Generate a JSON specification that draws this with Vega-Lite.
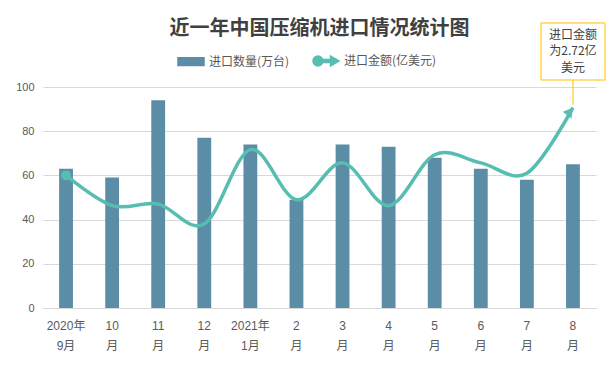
{
  "$schema": "https://vega.github.io/schema/vega-lite/v6.json",
  "autosize": "none",
  "width": 553,
  "height": 221,
  "padding": {"left": 43, "top": 87, "right": 20, "bottom": 60},
  "background": "white",
  "config": {
    "font": "Liberation Sans, Noto Sans CJK SC",
    "view": {"stroke": null},
    "axisY": {
      "labelOverlap": false,
      "domain": false,
      "ticks": false,
      "gridColor": "#d9d9d9",
      "labelColor": "#595959",
      "labelFontSize": 11,
      "labelPadding": 9,
      "title": null
    }
  },
  "title": {
    "text": "近一年中国压缩机进口情况统计图",
    "font": "Noto Sans CJK SC",
    "fontSize": 20,
    "fontWeight": "bold",
    "color": "#404040",
    "anchor": "middle",
    "offset": 0,
    "dy": 17
  },
  "data": {
    "values": [
      {"month": "2020年9月", "quantity": 63, "amount": 1.80},
      {"month": "10月", "quantity": 59, "amount": 1.39},
      {"month": "11月", "quantity": 94, "amount": 1.41},
      {"month": "12月", "quantity": 77, "amount": 1.14},
      {"month": "2021年1月", "quantity": 74, "amount": 2.15},
      {"month": "2月", "quantity": 49, "amount": 1.47},
      {"month": "3月", "quantity": 74, "amount": 1.97},
      {"month": "4月", "quantity": 73, "amount": 1.39},
      {"month": "5月", "quantity": 68, "amount": 2.08},
      {"month": "6月", "quantity": 63, "amount": 1.97},
      {"month": "7月", "quantity": 58, "amount": 1.83},
      {"month": "8月", "quantity": 65, "amount": 2.72, "note": "进口金额\n为2.72亿\n美元"}
    ]
  },
  "encoding": {
    "x": {
      "field": "month",
      "type": "ordinal",
      "sort": null,
      "scale": {
        "domain": ["2020年9月", "10月", "11月", "12月", "2021年1月", "2月", "3月", "4月", "5月", "6月", "7月", "8月"],
        "paddingInner": 0,
        "paddingOuter": 0
      },
      "axis": {
        "title": null,
        "labelAngle": 0,
        "domainColor": "#d9d9d9",
        "ticks": false,
        "labelColor": "#595959",
        "labelFontSize": 12,
        "labelPadding": 12,
        "labelLineHeight": 20,
        "labelBaseline": "top",
        "labelExpr": "indexof(datum.value,'年')>=0 ? [split(datum.value,'年')[0]+'年', split(datum.value,'年')[1]] : [slice(datum.value,0,-1),'月']"
      }
    }
  },
  "layer": [
    {
      "layer": [
        {
          "mark": {"type": "bar", "width": {"band": 0.3}},
          "encoding": {
            "y": {
              "field": "quantity",
              "type": "quantitative",
              "scale": {"domain": [0, 100], "nice": false},
              "axis": {"title": null, "values": [0, 10, 20, 30, 40, 50, 60, 70, 80, 90, 100], "tickCount": 10}
            },
            "color": {
              "datum": "进口数量(万台)",
              "type": "nominal",
              "scale": {
                "domain": ["进口数量(万台)", "进口金额(亿美元)"],
                "range": ["#5b8ea6", "#58bdb1"]
              },
              "legend": {
                "orient": "none",
                "direction": "horizontal",
                "legendX": 134,
                "legendY": -40,
                "padding": 0,
                "title": null,
                "labelFontSize": 12,
                "labelColor": "#595959",
                "labelFont": "Noto Sans CJK SC",
                "symbolSize": 676,
                "labelOffset": 4,
                "columnPadding": 19,
                "encode": {
                  "symbols": {
                    "update": {
                      "shape": {"signal": "datum.value === '进口数量(万台)' ? 'M-1,-0.3H1V0.3H-1Z' : 'M-1,0A0.38,0.38 0 1,0 -0.24,0A0.38,0.38 0 1,0 -1,0Z M-0.3,-0.11V0.11H0.5V-0.11Z M0.35,-0.38L0.35,0.38L1,0Z'"},
                      "fill": {"signal": "scale('color', datum.value)"},
                      "stroke": {"value": "transparent"},
                      "opacity": {"value": 1}
                    }
                  }
                }
              }
            }
          }
        }
      ]
    },
    {
      "layer": [
        {
          "mark": {"type": "line", "interpolate": "cardinal", "strokeWidth": 3.5},
          "encoding": {
            "y": {
              "field": "amount",
              "type": "quantitative",
              "scale": {"domain": [0, 3], "nice": false},
              "axis": null
            },
            "color": {"datum": "进口金额(亿美元)", "type": "nominal"}
          }
        },
        {
          "transform": [{"filter": "datum.month === '2020年9月'"}],
          "mark": {"type": "point", "filled": true, "size": 100, "color": "#58bdb1", "opacity": 1},
          "encoding": {
            "y": {"field": "amount", "type": "quantitative"}
          }
        },
        {
          "transform": [{"filter": "datum.month === '8月'"}],
          "mark": {
            "type": "point",
            "filled": true,
            "shape": "M0,0L-0.7,1.2L0.7,1.2Z",
            "size": 250,
            "angle": 38,
            "color": "#58bdb1",
            "opacity": 1
          },
          "encoding": {
            "y": {"field": "amount", "type": "quantitative"}
          }
        },
        {
          "transform": [{"filter": "datum.month === '8月'"}],
          "mark": {"type": "rule", "color": "#ffc000", "strokeWidth": 1},
          "encoding": {
            "y": {"datum": 3.095, "type": "quantitative"},
            "y2": {"datum": 2.76}
          }
        },
        {
          "transform": [{"filter": "datum.month === '8月'"}],
          "mark": {"type": "bar", "width": 64, "fill": "white", "stroke": "#ffc000", "strokeWidth": 1},
          "encoding": {
            "y": {"datum": 3.095, "type": "quantitative"},
            "y2": {"datum": 3.869}
          }
        },
        {
          "transform": [{"filter": "datum.month === '8月'"}],
          "mark": {
            "type": "text",
            "lineBreak": "\n",
            "font": "Noto Sans CJK SC",
            "fontSize": 12,
            "color": "#404040",
            "lineHeight": 16.5,
            "baseline": "middle",
            "align": "center"
          },
          "encoding": {
            "y": {"datum": 3.706, "type": "quantitative"},
            "text": {"field": "note"}
          }
        }
      ]
    }
  ],
  "resolve": {"scale": {"y": "independent"}, "axis": {"y": "independent"}}
}
